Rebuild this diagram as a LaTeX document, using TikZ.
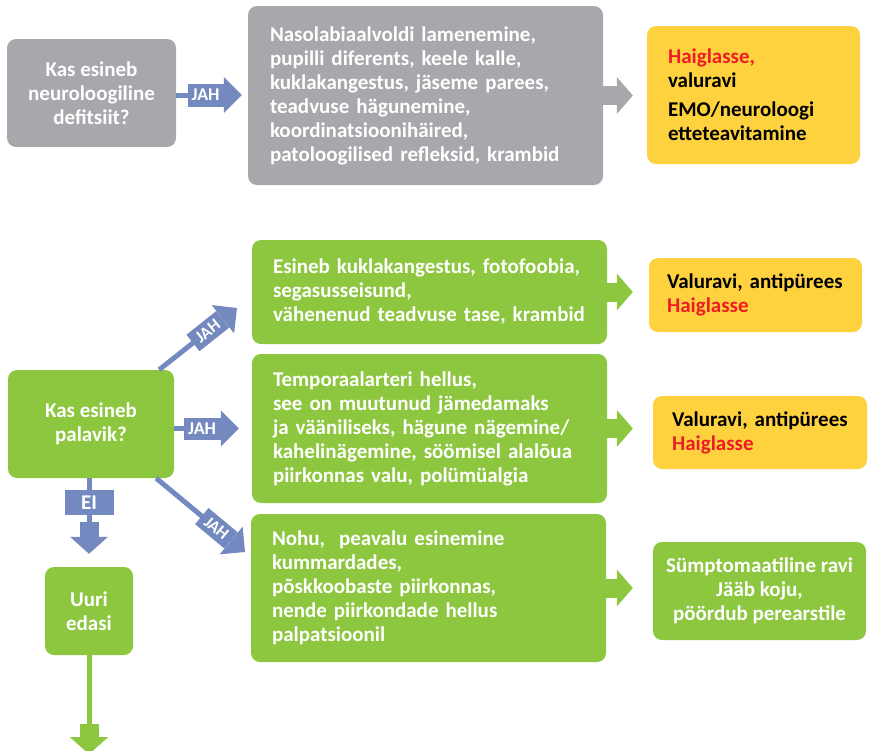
\documentclass[tikz,border=0pt]{standalone}
\usepackage{fontspec}
\setmainfont{Carlito}
\usetikzlibrary{arrows.meta,calc}

\definecolor{boxgray}{HTML}{A7A8AC}
\definecolor{flowblue}{HTML}{7389BF}
\definecolor{leafgreen}{HTML}{8DC63F}
\definecolor{alertyellow}{HTML}{FED23F}
\definecolor{alertred}{HTML}{EE1C25}

\begin{document}
\begin{tikzpicture}[x=1pt,y=-1pt,
  box/.style={rounded corners=9pt, inner sep=0pt,
    font=\fontsize{21}{24}\selectfont\bfseries},
  greybox/.style={box, fill=boxgray, text=white},
  greenbox/.style={box, fill=leafgreen, text=white},
  yellowbox/.style={box, fill=alertyellow, text=black},
  leftpad/.style n args={3}{minimum height=#1, text width=#2, inner xsep=#3, align=left},
  blockarrow/.style={line width=19pt,
    -{Triangle[length=16pt,width=37pt,line width=0pt]}},
  thinarrow/.style={flowblue, line width=5pt,
    -{Triangle[length=18pt,width=36pt,line width=0pt]}},
  tag/.style={fill=flowblue, text=white, inner sep=0pt,
    font=\fontsize{18}{18}\selectfont\bfseries},
  slanttag/.style={tag, minimum width=38, minimum height=21,
    font=\fontsize{17}{17}\selectfont\bfseries},
]
\useasboundingbox (0,0) rectangle (869,750);

% ---------- neurological deficit branch ----------
\node[greybox, minimum width=169, minimum height=108, align=center] (q1) at (91.5,93)
  {Kas esineb\\neuroloogiline\\defitsiit?};
\node[greybox, leftpad={179}{311}{22}] (g2) at (425.5,95.5)
  {Nasolabiaalvoldi lamenemine,\\pupilli diferents, keele kalle,\\kuklakangestus, jäseme parees,\\teadvuse hägunemine,\\koordinatsioonihäired,\\patoloogilised refleksid, krambid};
\node[yellowbox, leftpad={138}{171}{21}] (y1) at (753.5,95)
  {{\color{alertred}Haiglasse,}\\valuravi\\[5pt]EMO/neuroloogi\\etteteavitamine};

% ---------- fever branch ----------
\node[greenbox, minimum width=166, minimum height=108, align=center] (q2) at (91,424)
  {Kas esineb\\palavik?};
\node[greenbox, leftpad={104}{313}{21}] (gA) at (429.5,292)
  {Esineb kuklakangestus, fotofoobia,\\segasusseisund,\\vähenenud teadvuse tase, krambid};
\node[greenbox, leftpad={149}{313}{21}] (gB) at (429.5,428.5)
  {Temporaalarteri hellus,\\see on muutunud jämedamaks\\ja vääniliseks, hägune nägemine/\\kahelinägemine, söömisel alalõua\\piirkonnas valu, polümüalgia};
\node[greenbox, leftpad={148}{313}{21}] (gC) at (428.5,588)
  {Nohu,~ peavalu esinemine\\kummardades,\\põskkoobaste piirkonnas,\\nende piirkondade hellus\\palpatsioonil};
\node[yellowbox, leftpad={74}{177}{18}] (y2) at (755.5,295)
  {Valuravi, antipürees\\{\color{alertred}Haiglasse}};
\node[yellowbox, leftpad={73}{176}{19}] (y3) at (760,432.5)
  {Valuravi, antipürees\\{\color{alertred}Haiglasse}};
\node[greenbox, minimum width=213, minimum height=98, align=center] (s1) at (759.5,591)
  {Sümptomaatiline ravi\\Jääb koju,\\pöördub perearstile};
\node[greenbox, minimum width=88, minimum height=88, align=center] (u1) at (89,611)
  {Uuri\\edasi};

% ---------- block arrows between boxes ----------
\draw[boxgray, blockarrow] (g2.east) -- ([xshift=-14pt]y1.west |- g2.east);
\draw[leafgreen, blockarrow] (gA.east) -- ([xshift=-16pt]y2.west |- gA.east);
\draw[leafgreen, blockarrow] (gB.east) -- ([xshift=-20pt]y3.west |- gB.east);
\draw[leafgreen, blockarrow] (gC.east) -- ([xshift=-20pt]s1.west |- gC.east);

% ---------- labelled JAH arrows ----------
\coordinate (s0) at ([yshift=-2pt]q1.east);
\coordinate (t0) at ([xshift=-6pt]g2.west |- s0);
\coordinate (b0) at ($(t0)!18pt!(s0)$);
\draw[thinarrow] (s0) -- (t0);
\path (s0) -- (b0) node[pos=1, sloped, anchor=east, tag,
  minimum width=36, minimum height=23] {JAH};

\coordinate (tA) at (237,308);
\coordinate (bA) at ($(tA)!18pt!(q2.center)$);
\draw[thinarrow] (q2) -- (tA);
\path (q2) -- (bA) node[pos=1, sloped, anchor=east, slanttag] {JAH};

\coordinate (sB) at (q2.east |- gB.west);
\coordinate (tB) at ([xshift=-13pt]gB.west);
\coordinate (bB) at ($(tB)!18pt!(sB)$);
\draw[thinarrow] (sB) -- (tB);
\path (sB) -- (bB) node[pos=1, sloped, anchor=east, tag,
  minimum width=37, minimum height=22] {JAH};

\coordinate (tC) at (245,552);
\coordinate (bC) at ($(tC)!18pt!(q2.center)$);
\draw[thinarrow] (q2) -- (tC);
\path (q2) -- (bC) node[pos=1, sloped, anchor=east, slanttag] {JAH};

% ---------- EI arrow down to "Uuri edasi" ----------
\coordinate (eiTop) at (u1.north |- q2.south);
\coordinate (eiEnd) at ([yshift=45pt]u1.north);
\coordinate (eiTip) at ([yshift=13pt]u1.north);
\draw[flowblue, line width=5pt] (eiTop) -- (eiEnd)
  node[pos=0.56, tag, minimum width=49, minimum height=25,
    font=\fontsize{21}{21}\selectfont\bfseries] {EI};
\draw[flowblue, line width=19pt,
  -{Triangle[length=17pt,width=38pt,line width=0pt]}] (eiEnd) -- (eiTip);

% ---------- continuation below "Uuri edasi" ----------
\coordinate (dnEnd) at ([yshift=-69pt]u1.south);
\coordinate (dnTip) at ([yshift=-99pt]u1.south);
\draw[leafgreen, line width=5pt] (u1.south) -- (dnEnd);
\draw[leafgreen, line width=19pt,
  -{Triangle[length=17pt,width=38pt,line width=0pt]}] (dnEnd) -- (dnTip);
\end{tikzpicture}
\end{document}
